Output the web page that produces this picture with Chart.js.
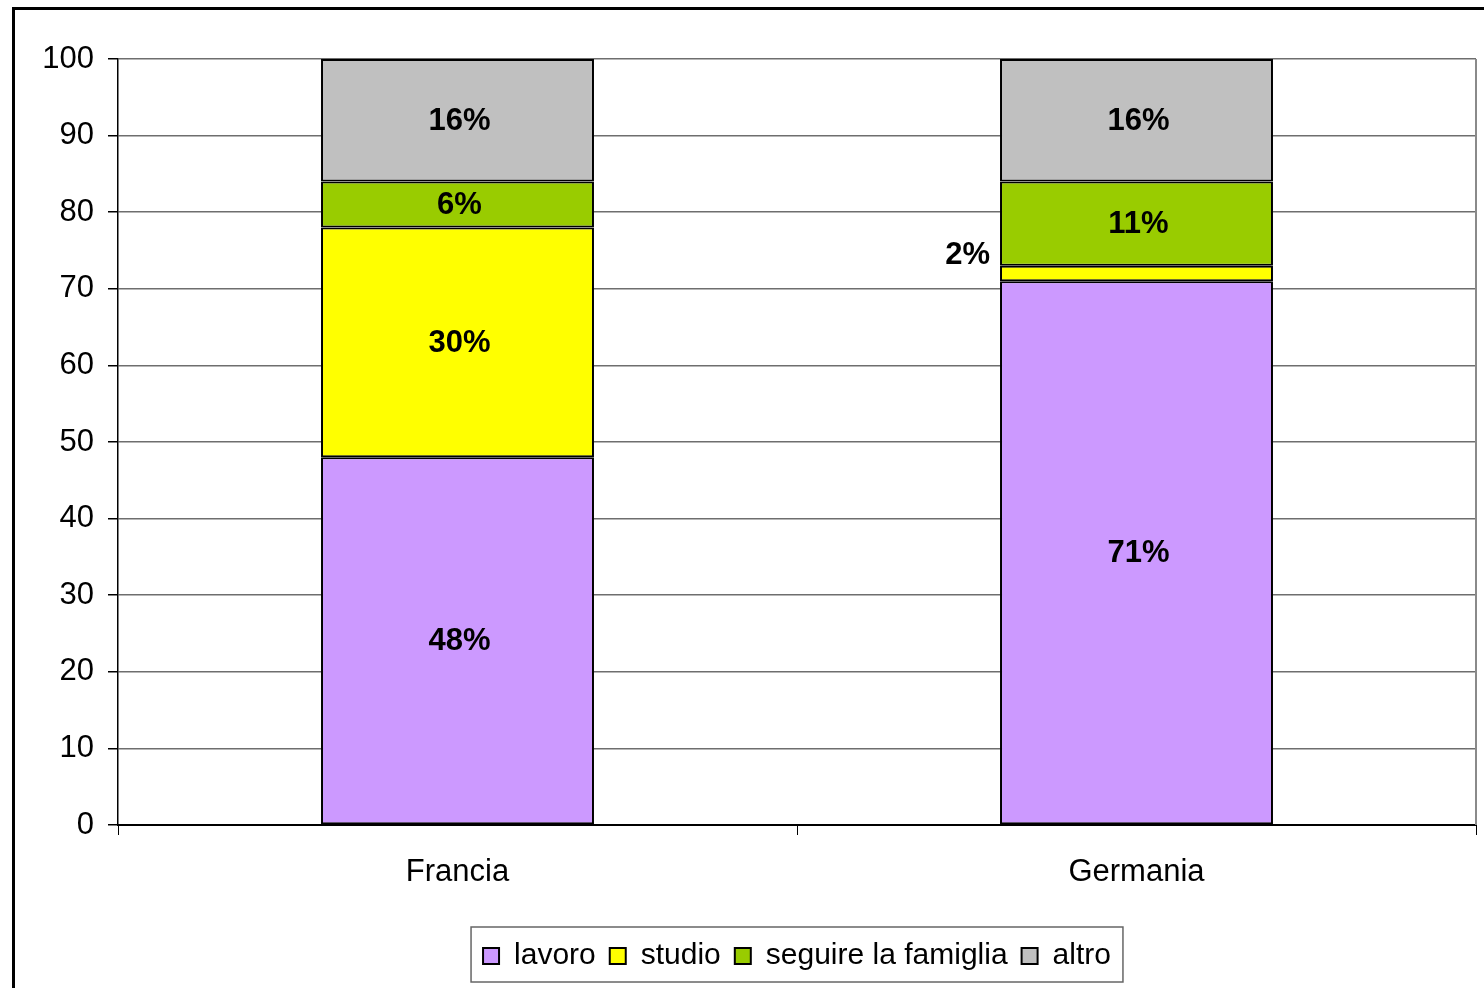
<!DOCTYPE html>
<html>
<head>
<meta charset="utf-8">
<script src="https://cdn.jsdelivr.net/npm/chart.js@4/dist/chart.umd.min.js"></script>
<style>
  body { margin: 0; background: #fff; }
  canvas { display: block; }
</style>
</head>
<body>
<canvas id="chart" width="1484" height="988"></canvas>
<script>
"use strict";

// chart values
const countries = ['Francia', 'Germania']
const lavoro = [48, 71]
const studio = [30, 2]
const famiglia = [6, 11]
const altro = [16, 16]
const yTicks = [0, 10, 20, 30, 40, 50, 60, 70, 80, 90, 100]

const FONT = "'Liberation Sans', Arial, sans-serif"

// outer frame + right border of the plot
const framePlugin = {
	id: 'frame',
	beforeDraw(chart) {
		const ctx = chart.ctx
		ctx.save()
		ctx.fillStyle = '#fff'
		ctx.fillRect(0, 0, chart.width, chart.height)
		ctx.strokeStyle = '#000'
		ctx.lineWidth = 3
		ctx.strokeRect(13.5, 8.5, chart.width + 100, chart.height + 100)
		ctx.restore()
	},
	afterDraw(chart) {
		const ctx = chart.ctx
		const a = chart.chartArea
		ctx.save()
		ctx.strokeStyle = '#8a8a8a'
		ctx.lineWidth = 2
		ctx.beginPath()
		ctx.moveTo(a.right, a.top)
		ctx.lineTo(a.right, a.bottom)
		ctx.stroke()

		// box round the legend
		const boxes = chart.legend.legendHitBoxes
		if (boxes && boxes.length) {
			const first = boxes[0]
			const last = boxes[boxes.length - 1]
			const l = first.left - 12
			const r = last.left + last.width + 12
			const t = first.top - 14
			const b = first.top + first.height + 11
			ctx.strokeStyle = '#666'
			ctx.lineWidth = 1.5
			ctx.strokeRect(l, t, r - l, b - t)
		}
		ctx.restore()
	}
}

// percentage labels on the segments
const labelPlugin = {
	id: 'segLabels',
	afterDatasetsDraw(chart) {
		const ctx = chart.ctx
		ctx.save()
		ctx.font = 'bold 31px ' + FONT
		ctx.fillStyle = '#000'
		ctx.textBaseline = 'middle'
		chart.data.datasets.forEach((ds, i) => {
			const meta = chart.getDatasetMeta(i)
			meta.data.forEach((el, j) => {
				const v = ds.data[j]
				const text = v + '%'
				if (v < 5) {
					ctx.textAlign = 'right'
					ctx.fillText(text, el.x - el.width / 2 - 10, el.y - 10)
				} else {
					ctx.textAlign = 'center'
					ctx.fillText(text, el.x + 2, (el.y + el.base) / 2 + 1)
				}
			})
		})
		ctx.restore()
	}
}

const barStyle = { borderColor: '#000', borderWidth: 2, borderSkipped: false, barPercentage: 0.402, categoryPercentage: 1 }

new Chart(document.getElementById('chart'), {
	type: 'bar',
	data: {
		labels: countries,
		datasets: [
			{ label: 'lavoro', data: lavoro, backgroundColor: '#CC99FF', ...barStyle },
			{ label: 'studio', data: studio, backgroundColor: '#FFFF00', ...barStyle },
			{ label: 'seguire la famiglia', data: famiglia, backgroundColor: '#99CC00', ...barStyle },
			{ label: 'altro', data: altro, backgroundColor: '#C0C0C0', ...barStyle }
		]
	},
	options: {
		responsive: false,
		animation: false,
		layout: { padding: { top: 59, left: 0, right: 8, bottom: 7 } },
		plugins: {
			tooltip: { enabled: false },
			legend: {
				position: 'bottom',
				fullSize: false,
				labels: {
					boxWidth: 16,
					boxHeight: 16,
					padding: 14,
					color: '#000',
					font: { family: FONT, size: 30 }
				}
			}
		},
		scales: {
			x: {
				stacked: true,
				offset: true,
				afterFit(scale) { scale.height = 102 },
				grid: { offset: true, drawOnChartArea: false, tickLength: 10, tickColor: '#000' },
				border: { color: '#000', width: 2 },
				ticks: { color: '#000', padding: 19, font: { family: FONT, size: 31 } }
			},
			y: {
				stacked: true,
				min: 0,
				max: 100,
				afterFit(scale) { scale.width = 118 },
				afterBuildTicks(scale) { scale.ticks = yTicks.map(v => ({ value: v })) },
				grid: { color: '#6e6e6e', lineWidth: 1.5, tickLength: 10, tickColor: '#000' },
				border: { color: '#000', width: 1.5 },
				ticks: { color: '#000', padding: 14, font: { family: FONT, size: 31 } }
			}
		}
	},
	plugins: [framePlugin, labelPlugin]
})
</script>
</body>
</html>
